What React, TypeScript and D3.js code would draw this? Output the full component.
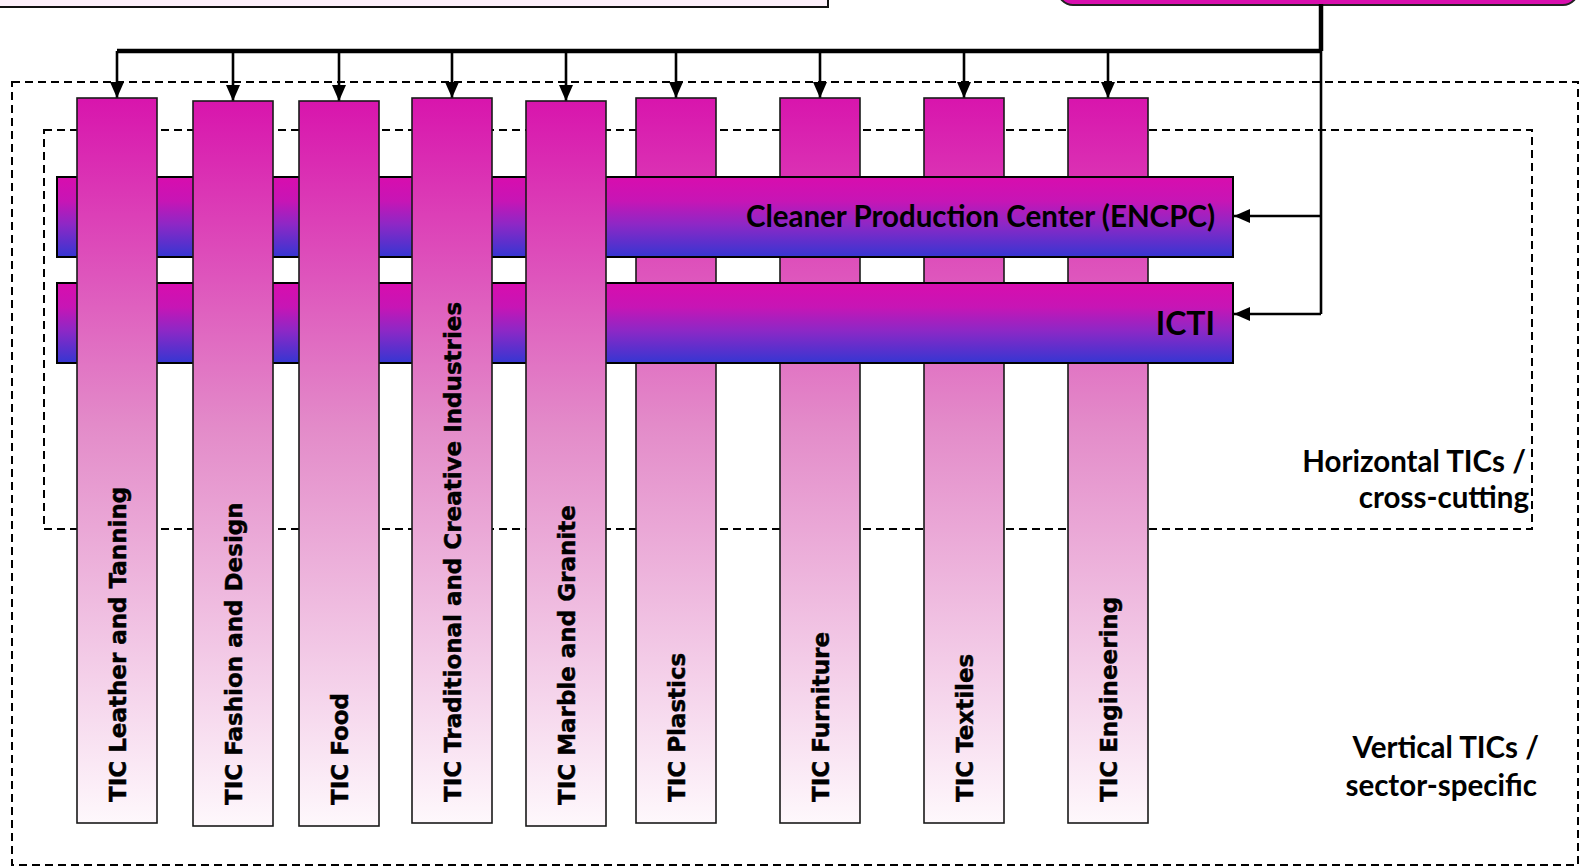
import React from 'react';
import * as d3 from 'd3';

// diagram content
const verticalTics = [
  'TIC Leather and Tanning',
  'TIC Fashion and Design',
  'TIC Food',
  'TIC Traditional and Creative Industries',
  'TIC Marble and Granite',
  'TIC Plastics',
  'TIC Furniture',
  'TIC Textiles',
  'TIC Engineering',
];
// which vertical TICs are woven over the horizontal bars
const verticalLayer = ['over', 'over', 'over', 'over', 'over', 'under', 'under', 'under', 'under'];
const horizontalTics = ['Cleaner Production Center (ENCPC)', 'ICTI'];
const horizontalLabel = ['Horizontal TICs /', 'cross-cutting'];
const verticalLabel = ['Vertical TICs /', 'sector-specific'];

// layout
const W = 1580;
const H = 867;
const colLeft = [77, 193, 299, 412, 526, 636, 780, 924, 1068];
const colTop = [98, 101, 101, 98, 101, 98, 98, 98, 98];
const colW = 80;
const colH = 725;
const rowTop = [177, 283];
const rowArrowY = [216, 314];
const rowFont = [29.5, 32];
const rowX0 = 57;
const rowX1 = 1233;
const rowH = 80;
const busY = 51;
const trunkX = 1321;

const App: React.FC = () => {
  const x = d3.scaleOrdinal<string, number>().domain(verticalTics).range(colLeft);
  const top = d3.scaleOrdinal<string, number>().domain(verticalTics).range(colTop);
  const y = d3.scaleOrdinal<string, number>().domain(horizontalTics).range(rowTop);
  const arrowY = d3.scaleOrdinal<string, number>().domain(horizontalTics).range(rowArrowY);

  const line = d3.line<[number, number]>();

  const col = (name: string) => {
    const cx = x(name) + colW / 2;
    const bottom = top(name) + colH;
    return (
      <g key={name}>
        <rect x={x(name)} y={top(name)} width={colW} height={colH}
          fill="url(#vgrad)" stroke="#1a1a1a" strokeWidth={1.6} />
        <text transform={`translate(${cx + 8.5},${bottom - 21}) rotate(-90)`}
          fontFamily="DejaVu Sans" fontWeight="bold" fontSize={23} fill="#000"
          stroke="#000" strokeWidth={0.45}>
          {name}
        </text>
      </g>
    );
  };

  const under = verticalTics.filter((_, i) => verticalLayer[i] === 'under');
  const over = verticalTics.filter((_, i) => verticalLayer[i] === 'over');
  const lastArrow = arrowY(horizontalTics[horizontalTics.length - 1]);

  return (
    <svg width={W} height={H} viewBox={`0 0 ${W} ${H}`}
      style={{ position: 'absolute', left: 0, top: 0, display: 'block', background: '#fff' }}>
      <defs>
        <linearGradient id="vgrad" x1="0" y1="0" x2="0" y2="1">
          <stop offset="0" stopColor="#d815ad" />
          <stop offset="0.45" stopColor="#e38bc9" />
          <stop offset="1" stopColor="#fef8fc" />
        </linearGradient>
        <linearGradient id="hgrad" x1="0" y1="0" x2="0" y2="1">
          <stop offset="0" stopColor="#d80dae" />
          <stop offset="0.3" stopColor="#c715b5" />
          <stop offset="0.6" stopColor="#8c28c6" />
          <stop offset="1" stopColor="#3536d2" />
        </linearGradient>
        <marker id="arrow" viewBox="0 0 16 14" refX="16" refY="7" markerWidth="16" markerHeight="14"
          markerUnits="userSpaceOnUse" orient="auto">
          <path d="M0,0 L16,7 L0,14 Z" fill="#000" />
        </marker>
      </defs>

      {/* header boxes, cut by the top edge */}
      <rect x={-10} y={-60} width={838} height={67} fill="#fdf0fa" stroke="#111" strokeWidth={2} />
      <rect x={1058} y={-60} width={520} height={65} rx={15} fill="#d80fae" stroke="#222" strokeWidth={2} />

      {/* dashed group boxes */}
      <rect x={12} y={82} width={1566} height={783} fill="none" stroke="#000" strokeWidth={2} strokeDasharray="8,5" />
      <rect x={44} y={130} width={1488} height={399} fill="none" stroke="#000" strokeWidth={2} strokeDasharray="8,5" />

      {/* connectors */}
      <path d={line([[x(verticalTics[0]) + colW / 2, busY], [trunkX, busY]]) ?? ''} stroke="#000" strokeWidth={4.5} fill="none" />
      <path d={line([[trunkX, 4], [trunkX, busY]]) ?? ''} stroke="#000" strokeWidth={4.5} fill="none" />
      <path d={line([[trunkX, busY], [trunkX, lastArrow]]) ?? ''} stroke="#000" strokeWidth={2.6} fill="none" />
      {verticalTics.map((name) => (
        <path key={name} d={line([[x(name) + colW / 2, busY], [x(name) + colW / 2, top(name)]]) ?? ''}
          stroke="#000" strokeWidth={2.6} fill="none" markerEnd="url(#arrow)" />
      ))}
      {horizontalTics.map((name) => (
        <path key={name} d={line([[trunkX, arrowY(name)], [rowX1 + 1, arrowY(name)]]) ?? ''}
          stroke="#000" strokeWidth={2.6} fill="none" markerEnd="url(#arrow)" />
      ))}

      {/* woven bars */}
      {under.map(col)}
      {horizontalTics.map((name, i) => (
        <g key={name}>
          <rect x={rowX0} y={y(name)} width={rowX1 - rowX0} height={rowH}
            fill="url(#hgrad)" stroke="#000" strokeWidth={2} />
          <text x={rowX1 - 18} y={y(name) + rowH / 2 + (i === 0 ? 10 : 12)} textAnchor="end"
            fontFamily="Lato" fontWeight="bold" fontSize={rowFont[i]} fill="#000">
            {name}
          </text>
        </g>
      ))}
      {over.map(col)}

      {/* group labels */}
      <g fontFamily="Lato" fontWeight="bold" fontSize={29.5} fill="#000" textAnchor="end">
        <text x={1526} y={472}>{horizontalLabel[0]}</text>
        <text x={1529} y={508}>{horizontalLabel[1]}</text>
        <text x={1539} y={758}>{verticalLabel[0]}</text>
        <text x={1537} y={796}>{verticalLabel[1]}</text>
      </g>
    </svg>
  );
};

export default App;
